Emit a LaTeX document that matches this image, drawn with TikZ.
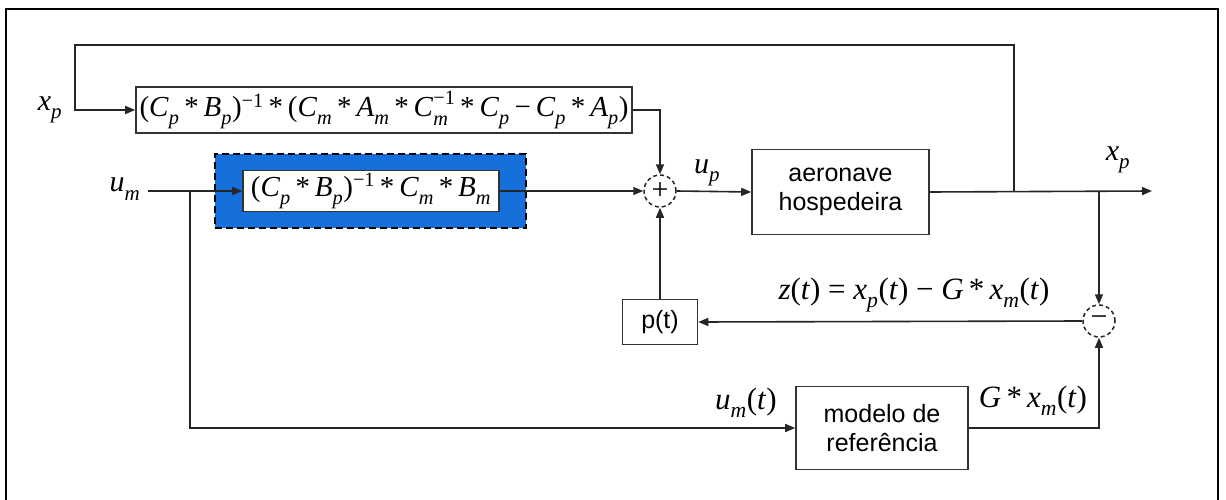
\documentclass[tikz,border=0pt]{standalone}
\usepackage{fontspec}
\setmainfont{Liberation Serif}
\newfontfamily\sansf{Liberation Sans}
\usetikzlibrary{arrows.meta}
\newcommand\vr[2]{\textit{#1}\raisebox{-0.15em}{\textsubscript{\textit{#2}}}}
\newcommand\vrs[3]{\textit{#1}\rlap{\raisebox{-0.2em}{\textsubscript{\textit{#2}}}}\raisebox{0.1em}{\textsuperscript{#3}}}
\definecolor{bluefill}{RGB}{22,112,220}
\tikzset{
  blk/.style={draw=black!80, line width=1.6pt, fill=white, inner sep=0pt},
  sblk/.style={blk, font=\sansf\fontsize{25}{29}\selectfont, align=center},
  conn/.style={draw=black!85, line width=1.6pt},
  arr/.style={conn, -{Triangle[length=10pt,width=8pt]}},
  sumnode/.style={circle, draw=black!85, line width=1.5pt, dash pattern=on 4pt off 3pt, minimum size=32pt, inner sep=0pt, fill=white},
  lbl/.style={font=\fontsize{30}{34}\selectfont, inner sep=0pt},
  flbl/.style={font=\fontsize{31}{34}\selectfont, inner sep=0pt},
  eqf/.style={font=\fontsize{29}{32}\selectfont}
}
\begin{document}
\begin{tikzpicture}[x=1pt,y=-1pt]
\useasboundingbox (0,0) rectangle (1226,500);
\fill[white] (0,0) rectangle (1226,500);
% frame
\draw[line width=2.4pt] (6,505) -- (6,9) -- (1218,9) -- (1218,505);

% blocks
\node[blk, eqf, minimum width=496pt, minimum height=46pt] (b1) at (384,110)
  {(\vr Cp\,*\,\vr Bp)\textsuperscript{−1}\,*\,(\vr Cm\,*\,\vr Am\,*\,\vrs Cm{−1}\,*\,\vr Cp\,−\,\vr Cp\,*\,\vr Ap)};
\node[draw=black, line width=1.8pt, dash pattern=on 7pt off 4pt, fill=bluefill, minimum width=311pt, minimum height=74pt, inner sep=0pt] (blue) at (370.5,191) {};
\node[blk, eqf, minimum width=256pt, minimum height=41pt] (b2) at (371,191)
  {(\vr Cp\,*\,\vr Bp)\textsuperscript{−1}\,*\,\vr Cm\,*\,\vr Bm};
\node[sumnode] (sum) at (660,191) {};
\node[font=\fontsize{30}{30}\selectfont, inner sep=0pt] (plus) at (sum) {+};
\node[sblk, minimum width=177pt, minimum height=85pt] (aer) at (840.5,192) {aeronave\\hospedeira};
\node[sblk, minimum width=75pt, minimum height=45pt] (pt) at (660,322) {p(t)};
\node[sumnode] (mns) at (1099,321) {};
\node[font=\fontsize{30}{30}\selectfont, inner sep=0pt] (minus) at (mns) {−};
\node[sblk, minimum width=172pt, minimum height=83pt] (mod) at (882,428) {modelo de\\referência};

% coordinates
\coordinate (fb) at (1014,191);
\coordinate (tl) at (75,45);
\coordinate (umst) at (148,191);
\coordinate (br) at (190,191);
\coordinate (xbr) at (1099,191);
\coordinate (outend) at (1152,191);

% connectors
\draw[arr] (fb) |- (tl) |- (b1.west);
\draw[arr] (b1.east) -| (sum.north);
\draw[arr] (umst) -- (b2.west);
\draw[arr] (br) |- (mod.west);
\draw[arr] (b2.east) -- (sum.west);
\draw[arr] (sum.east) -- (aer.west);
\draw[arr] (aer.east) -- (outend);
\draw[arr] (xbr) -- (mns.north);
\draw[arr] (mns.west) -- (pt.east);
\draw[arr] (pt.north) -- (sum.south);
\draw[arr] (mod.east) -| (mns.south);

% labels
\node[lbl] (lxp) at (50,110) {\vr xp};
\node[lbl] (lum) at (125,189) {\vr um};
\node[lbl] (lup) at (707,173) {\vr up};
\node[lbl] (lxo) at (1118,160) {\vr xp};
\node[flbl] (lz) at (914,295) {\textit{z}(\textit{t}) = \vr xp(\textit{t}) − \textit{G}\,*\,\vr xm(\textit{t})};
\node[flbl] (lumt) at (746,403) {\vr um(\textit{t})};
\node[flbl] (lgx) at (1033,401) {\textit{G}\,*\,\vr xm(\textit{t})};
\end{tikzpicture}
\end{document}
